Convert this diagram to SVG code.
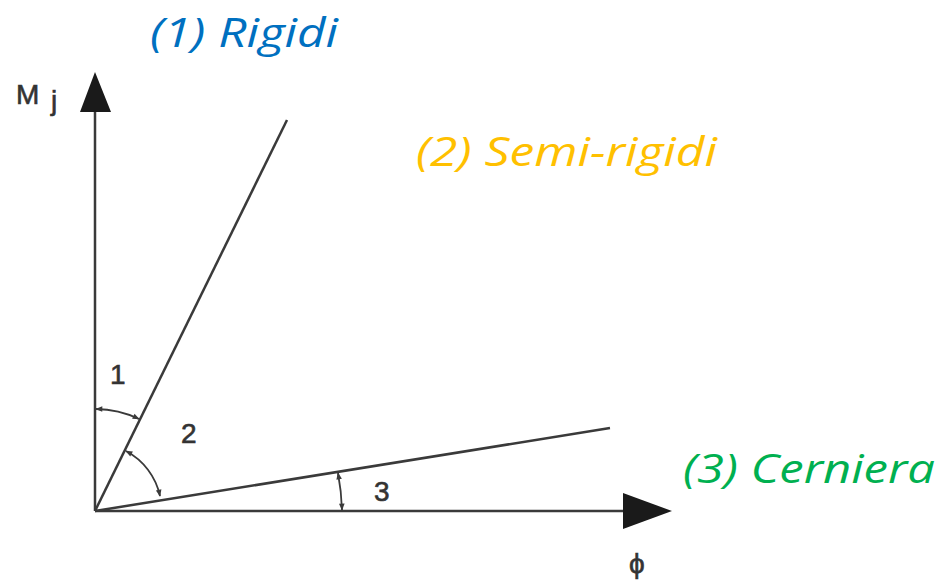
<svg xmlns="http://www.w3.org/2000/svg" width="940" height="580" viewBox="0 0 940 580">
<defs>
<style>
.ax{stroke:#3a3a3a;stroke-width:2.5;fill:none}
.arc{stroke:#3a3a3a;stroke-width:1.8;fill:none;marker-start:url(#ah);marker-end:url(#ah)}
.lbl{font-family:"Liberation Sans",Arial,sans-serif;fill:#333;stroke:#333;stroke-width:0.6;font-size:28px}
.cap{font-family:"Open Sans","Liberation Sans",sans-serif;font-style:italic;font-size:40px}
</style>
<marker id="ah" viewBox="0 0 10 10" refX="9" refY="5" markerWidth="8" markerHeight="7" orient="auto-start-reverse" markerUnits="userSpaceOnUse">
<path d="M0,1 L10,5 L0,9 Z" fill="#3a3a3a"/>
</marker>
</defs>
<g id="connectors">
<line class="ax" x1="95" y1="511" x2="95" y2="100"/>
<polygon points="95,72 80,112 111,112" fill="#1a1a1a"/>
<line class="ax" x1="95" y1="511" x2="630" y2="511"/>
<polygon points="672,511 623,493 623,529" fill="#1a1a1a"/>
<line class="ax" x1="95" y1="511" x2="287" y2="120"/>
<line class="ax" x1="95" y1="511" x2="610" y2="428"/>
<path class="arc" d="M96,409 A102,102 0 0 1 139,419"/>
<path class="arc" d="M126,451 A67,67 0 0 1 160,496"/>
<path class="arc" d="M338,473 A247,247 0 0 1 342,510"/>
</g>
<g id="axis-labels">
<text class="lbl" x="16" y="104" font-size="27">M</text>
<text class="lbl" x="51" y="110" font-size="20">j</text>
<text class="lbl" x="629" y="573" font-size="38" stroke-width="0.3">ϕ</text>
</g>
<g id="angle-labels">
<text class="lbl" x="110" y="384">1</text>
<text class="lbl" x="181" y="443">2</text>
<text class="lbl" x="374" y="501">3</text>
</g>
<g id="cat1"><text class="cap" x="150" y="47" fill="#0070C0" textLength="188" lengthAdjust="spacingAndGlyphs">(1) Rigidi</text></g>
<g id="cat2"><text class="cap" x="416" y="166" fill="#FFC000" textLength="301" lengthAdjust="spacingAndGlyphs">(2) Semi-rigidi</text></g>
<g id="cat3"><text class="cap" x="683" y="483" fill="#00B050" textLength="252" lengthAdjust="spacingAndGlyphs">(3) Cerniera</text></g>
</svg>
